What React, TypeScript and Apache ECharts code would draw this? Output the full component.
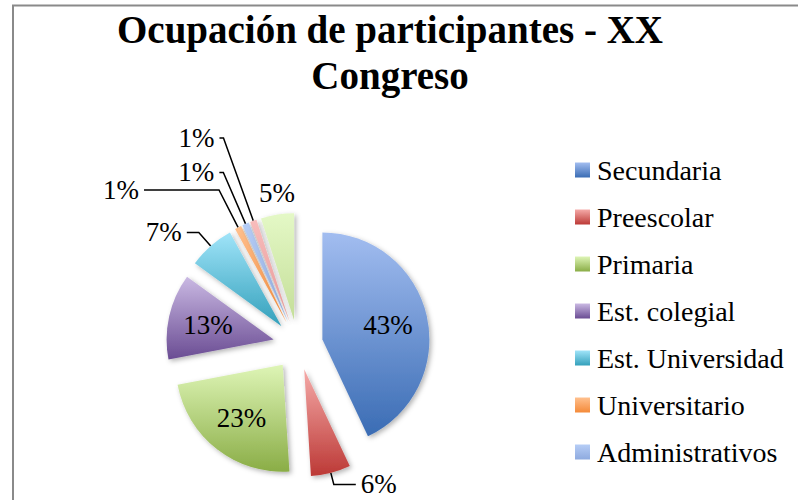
import React, { useEffect, useRef } from 'react';
import * as echarts from 'echarts';

const titleText = 'Ocupación de participantes - XX\nCongreso';
const categories = [
  'Secundaria',
  'Preescolar',
  'Primaria',
  'Est. colegial',
  'Est. Universidad',
  'Universitario',
  'Administrativos',
  'Otros',
  'Sin especificar',
];
const values = [43, 6, 23, 13, 7, 1, 1, 1, 5];
const legendNames = categories.slice(0, 7);

const topColors = ['#A2BDF0', '#F5AAA8', '#DEF5B6', '#CAB9E3', '#A0E4F9', '#FFC08E', '#B6CDF6', '#F8BDBC', '#E4F8C6'];
const bottomColors = ['#3A6CB4', '#BC3936', '#8AAD46', '#6A4C93', '#33A0BB', '#F48A39', '#8EAADF', '#E69796', '#C4DE98'];

const insideLabels = [0, 2, 3];
const lineLen = [0, 12, 0, 0, 18, 42, 56, 88, 22];
const lineLen2 = [0, 22, 0, 0, 12, 75, 4, 4, 0];

const RADIUS = 107;
const FONT = '"Liberation Serif", "DejaVu Serif", serif';

export default function App() {
  const ref = useRef<HTMLDivElement>(null);
  useEffect(() => {
    if (!ref.current) return;
    const chart = echarts.init(ref.current, null, { renderer: 'svg' });
    const total = values.reduce((a, b) => a + b, 0);
    const mids: number[] = [];
    let acc = 0;
    values.forEach((v) => {
      mids.push(((acc + v / 2) / total) * Math.PI * 2);
      acc += v;
    });
    const data = categories.map((name, i) => {
      const inside = insideLabels.includes(i);
      return {
        name,
        value: values[i],
        selected: true,
        itemStyle: {
          color: new echarts.graphic.LinearGradient(0, 0, 0, 1, [
            { offset: 0, color: topColors[i] },
            { offset: 1, color: bottomColors[i] },
          ]),
        },
        label: { position: inside ? 'inside' : 'outside' },
        labelLine: {
          show: !inside && i !== 8,
          length: lineLen[i],
          length2: lineLen2[i],
        },
      };
    });
    chart.setOption({
      animation: false,
      backgroundColor: '#ffffff',
      title: {
        text: titleText,
        left: 385,
        top: 1,
        textAlign: 'center',
        textStyle: {
          fontFamily: FONT,
          fontWeight: 'bold',
          fontSize: 39,
          lineHeight: 46,
          color: '#000000',
        },
      },
      legend: {
        data: legendNames,
        orient: 'vertical',
        left: 570,
        top: 151,
        itemWidth: 15,
        itemHeight: 15,
        itemGap: 19,
        icon: 'rect',
        selectedMode: false,
        textStyle: {
          fontFamily: FONT,
          fontSize: 28,
          lineHeight: 28,
          color: '#000000',
          padding: [0, 0, 0, 2],
        },
      },
      graphic: [
        {
          type: 'rect',
          shape: { x: 13, y: 5.5, width: 1000, height: 1000 },
          style: { fill: 'none', stroke: '#8a8a8a', lineWidth: 2 },
          silent: true,
        },
      ],
      series: [
        {
          type: 'pie',
          center: [298, 345],
          radius: [0, RADIUS],
          startAngle: 90,
          clockwise: true,
          selectedMode: 'multiple',
          selectedOffset: 25,
          avoidLabelOverlap: false,
          data,
          itemStyle: {
            shadowBlur: 5,
            shadowOffsetX: 2,
            shadowOffsetY: 2,
            shadowColor: 'rgba(0,0,0,0.3)',
          },
          label: {
            show: true,
            formatter: '{c}%',
            fontFamily: FONT,
            fontSize: 27,
            color: '#000000',
          },
          labelLine: {
            lineStyle: { color: '#000000', width: 1.5 },
          },
          emphasis: { disabled: true },
          labelLayout: (params: any) => {
            const i = params.dataIndex;
            if (insideLabels.includes(i)) {
              const shift = RADIUS * 0.1;
              return { dx: Math.sin(mids[i]) * shift, dy: -Math.cos(mids[i]) * shift };
            }
            if (i === 8) {
              return { align: 'center', dx: 8 };
            }
            return {};
          },
        },
      ],
    });
    return () => chart.dispose();
  }, []);
  return (
    <div style={{ position: 'fixed', left: 0, top: 0, width: 798, height: 500, background: '#fff' }}>
      <div ref={ref} style={{ width: 798, height: 500 }} />
    </div>
  );
}
